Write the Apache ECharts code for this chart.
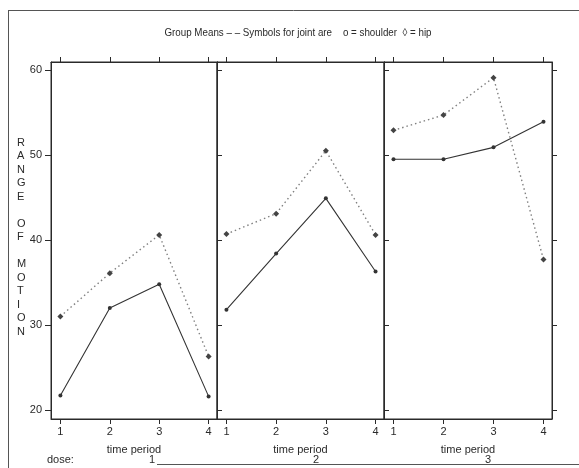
<!DOCTYPE html>
<html>
<head>
<meta charset="utf-8">
<script src="https://cdn.jsdelivr.net/npm/echarts@6/dist/echarts.min.js"></script>
<style>
html,body{margin:0;padding:0;background:#fff;}
#chart{width:579px;height:468px;}
</style>
</head>
<body>
<div id="chart"></div>
<script>
// ---- data ----
var timePeriods = [1, 2, 3, 4];
var doses = ['1', '2', '3'];
var yTicks = [20, 30, 40, 50, 60];
var xTicks = [1, 2, 3, 4];
var shoulder1 = [21.7, 32.0, 34.8, 21.6];
var hip1      = [31.0, 36.1, 40.6, 26.3];
var shoulder2 = [31.8, 38.4, 44.9, 36.3];
var hip2      = [40.7, 43.1, 50.5, 40.6];
var shoulder3 = [49.5, 49.5, 50.9, 53.9];
var hip3      = [52.9, 54.7, 59.1, 37.7];
var titleText = 'Group Means \u2013 \u2013 Symbols for joint are    o = shoulder  \u25CA = hip';
var yTitle = 'RANGE OF MOTION';
var xTitle = 'time period';
var doseLabel = 'dose:';

var shoulderSets = [shoulder1, shoulder2, shoulder3];
var hipSets = [hip1, hip2, hip3];

var FONT = "'Liberation Sans Narrow', 'Liberation Sans', Arial, sans-serif";
var INK = '#2a2a2a';

var grids = [
  {left: 51, top: 62, width: 166, height: 357},
  {left: 217, top: 62, width: 167, height: 357},
  {left: 384, top: 62, width: 168, height: 357}
];

var xAxes = [], yAxes = [], series = [];
grids.forEach(function (g, i) {
  g.show = true; g.borderColor = INK; g.borderWidth = 1; g.backgroundColor = 'transparent';
  xAxes.push({
    type: 'value', gridIndex: i, min: 0.81, max: 4.17, position: 'bottom',
    splitLine: {show: false},
    axisLine: {show: true, lineStyle: {color: INK, width: 1}},
    axisTick: {show: true, length: 5, inside: false, customValues: xTicks, lineStyle: {color: INK}},
    axisLabel: {show: true, customValues: xTicks, margin: 7, fontSize: 11, color: INK, fontFamily: FONT},
    name: xTitle, nameLocation: 'middle', nameGap: 25,
    nameTextStyle: {fontSize: 11, color: INK, fontFamily: FONT}
  });
  xAxes.push({
    type: 'value', gridIndex: i, min: 0.81, max: 4.17, position: 'top',
    splitLine: {show: false},
    axisLine: {show: true, lineStyle: {color: INK, width: 1}},
    axisTick: {show: true, length: 5, inside: false, customValues: xTicks, lineStyle: {color: INK}},
    axisLabel: {show: false}
  });
  yAxes.push({
    type: 'value', gridIndex: i, min: 18.94, max: 60.94, position: 'left',
    splitLine: {show: false},
    axisLine: {show: true, lineStyle: {color: INK, width: 1}},
    axisTick: {show: true, length: i === 0 ? 6 : 5, inside: i !== 0, customValues: yTicks, lineStyle: {color: INK}},
    axisLabel: {show: i === 0, customValues: yTicks, margin: 9, fontSize: 11, color: INK, fontFamily: FONT}
  });
  yAxes.push({
    type: 'value', gridIndex: i, min: 18.94, max: 60.94, position: 'right',
    splitLine: {show: false},
    axisLine: {show: true, lineStyle: {color: INK, width: 1}},
    axisTick: {show: true, length: 5, inside: false, customValues: yTicks, lineStyle: {color: INK}},
    axisLabel: {show: false}
  });
  function pairs(vals) { return timePeriods.map(function (t, k) { return [t, vals[k]]; }); }
  series.push({
    type: 'line', name: 'hip', xAxisIndex: 2 * i, yAxisIndex: 2 * i,
    data: pairs(hipSets[i]),
    symbol: 'diamond', symbolSize: 6, showSymbol: true,
    itemStyle: {color: '#444'},
    lineStyle: {color: '#808080', width: 1.4, type: [1.5, 3]},
    animation: false, silent: true
  });
  series.push({
    type: 'line', name: 'shoulder', xAxisIndex: 2 * i, yAxisIndex: 2 * i,
    data: pairs(shoulderSets[i]),
    symbol: 'circle', symbolSize: 4, showSymbol: true,
    itemStyle: {color: '#333'},
    lineStyle: {color: '#333', width: 1.1},
    animation: false, silent: true
  });
});

var graphics = [
  {type: 'line', shape: {x1: 8, y1: 10.5, x2: 579, y2: 10.5}, style: {stroke: '#555', lineWidth: 1}},
  {type: 'line', shape: {x1: 8.5, y1: 10, x2: 8.5, y2: 468}, style: {stroke: '#555', lineWidth: 1}},
  {type: 'line', shape: {x1: 157, y1: 464.5, x2: 579, y2: 464.5}, style: {stroke: '#555', lineWidth: 1}},
  {type: 'text', x: 298, y: 33, scaleX: 0.89, originX: 0, style: {
    text: titleText, font: '11px ' + FONT, fill: INK, align: 'center', verticalAlign: 'middle'
  }},
  {type: 'text', left: 17, top: 136, style: {
    text: yTitle.split('').join('\n'),
    font: '11px ' + FONT, fill: INK, lineHeight: 13.5, align: 'center', width: 12
  }},
  {type: 'text', left: 47, top: 454, style: {text: doseLabel, font: '11px ' + FONT, fill: INK}}
];
var doseX = [152, 316, 488];
doses.forEach(function (d, k) {
  graphics.push({type: 'text', x: doseX[k], y: 454, style: {text: d, font: '11px ' + FONT, fill: INK, align: 'center'}});
});

var chart = echarts.init(document.getElementById('chart'), null, {renderer: 'canvas'});
chart.setOption({
  animation: false,
  backgroundColor: '#fff',
  grid: grids,
  xAxis: xAxes,
  yAxis: yAxes,
  series: series,
  graphic: graphics
});
</script>
</body>
</html>
